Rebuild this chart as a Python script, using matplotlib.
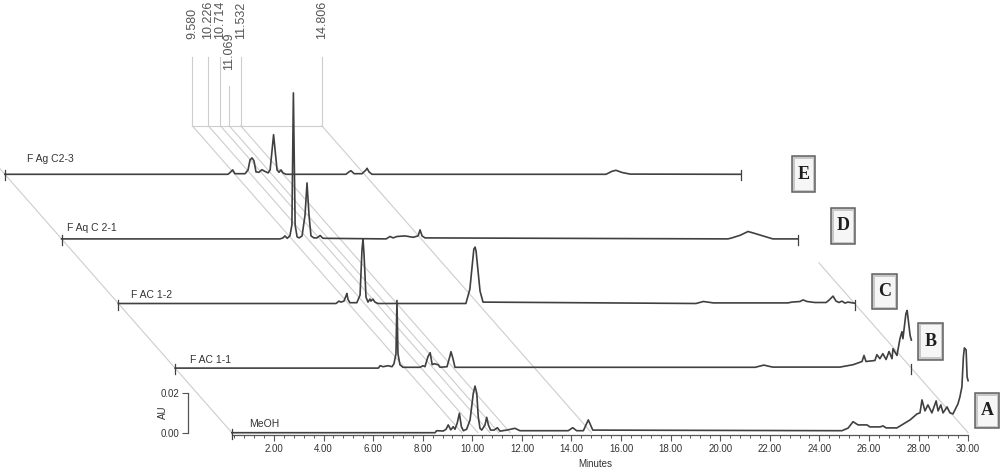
import matplotlib.pyplot as plt
from matplotlib.patches import Rectangle
from matplotlib.ticker import FixedLocator, FormatStrFormatter
import numpy as np

plt.rcParams['font.family'] = ['Liberation Sans', 'DejaVu Sans']

# traces from front (A) to back (E)
names = ['MeOH', 'F AC 1-1', 'F AC 1-2', 'F Aq C 2-1', 'F Ag C2-3']
letters = ['A', 'B', 'C', 'D', 'E']

# retention time (min) / absorbance above each trace's own baseline (AU)
t_a = [0.3, 8.50, 8.56, 8.83, 8.94, 9.03, 9.13, 9.23, 9.30, 9.39, 9.48, 9.56, 9.64, 9.77, 9.91,
       10.04, 10.11, 10.18, 10.24, 10.31, 10.38, 10.51, 10.58, 10.65, 10.74, 10.88, 11.01, 11.12,
       11.39, 11.72, 11.92, 13.87, 14.05, 14.21, 14.48, 14.68, 14.86, 24.91, 25.16, 25.36, 25.56,
       25.92, 26.04, 26.45, 26.57, 26.69, 27.13, 27.46, 27.66, 27.94, 28.06, 28.14, 28.26, 28.38,
       28.54, 28.71, 28.79, 28.90, 28.99, 29.15, 29.27, 29.39, 29.59, 29.67, 29.75, 29.81, 29.85,
       29.92, 29.96, 30.0]
au_a = [0, 0, .0010, .00085, .0017, .0039, .0014, .0030, .0017, .0047, .0097, .0030, .0010, .0017,
        .0064, .0197, .0233, .0197, .0080, .0022, .0013, .0038, .0077, .0038, .0013, .0013, .0025,
        .0008, .0013, .0022, .0010, .0010, .0025, .0010, .0010, .0064, .0013, .0010, .0023, .0055,
        .0039, .0039, .0029, .0029, .0034, .0024, .0024, .0049, .0064, .0094, .0099, .0164, .0109,
        .0139, .0099, .0159, .0109, .0139, .0099, .0129, .0099, .0094, .0144, .0179, .0229, .0379,
        .0424, .0414, .0279, .0260]

t_b = [0.3, 8.50, 8.57, 8.69, 8.89, 9.05, 9.13, 9.21, 9.25, 9.29, 9.37, 9.49, 10.18, 10.30, 10.38,
       10.50, 10.59, 10.67, 10.75, 10.91, 10.99, 11.27, 11.39, 11.43, 11.51, 11.59, 23.7, 24.05,
       24.4, 27.12, 27.65, 28.01, 28.09, 28.17, 28.53, 28.61, 28.73, 28.85, 28.98, 29.10, 29.22,
       29.26, 29.42, 29.54, 29.62, 29.66, 29.78, 29.83, 29.87, 29.95, 30.0]
au_b = [0, 0, .0012, .0007, .0012, .0007, .0022, .0072, .0338, .0072, .0017, .0004, .0004, .0012,
        .0007, .0057, .0077, .0017, .0022, .0017, .0004, .0007, .0062, .0082, .0047, .0004, .0004,
        .0015, .0005, .0005, .0017, .0033, .0063, .0033, .0038, .0067, .0047, .0072, .0043, .0083,
        .0047, .0097, .0063, .0147, .0182, .0147, .0272, .0288, .0247, .0163, .0140]

t_c = [0.3, 9.08, 9.20, 9.28, 9.40, 9.48, 9.52, 9.56, 9.64, 9.92, 10.05, 10.13, 10.17, 10.21, 10.29,
       10.37, 10.45, 10.49, 10.57, 10.65, 10.77, 14.32, 14.48, 14.64, 14.69, 14.73, 14.89, 15.01,
       23.6, 23.9, 24.3, 27.31, 27.47, 27.80, 27.92, 28.08, 28.40, 28.85, 28.97, 29.13, 29.25,
       29.37, 29.49, 29.61, 29.73, 29.97, 30.0]
au_c = [0, 0, .0012, .0007, .0012, .0037, .0050, .0022, .0004, .0004, .0042, .0272, .0322, .0247,
        .0032, .0007, .0022, .0012, .0022, .0007, 0, 0, .0072, .0272, .0282, .0262, .0062, .0007,
        0, .0010, .0003, .0003, .0007, .0010, .0018, .0010, .0005, .0005, .0017, .0037, .0012,
        .0005, .0012, .0002, .0007, .0002, .0002]

t_d = [0.3, 9.11, 9.23, 9.31, 9.40, 9.51, 9.59, 9.65, 9.72, 9.80, 9.88, 10.00, 10.12, 10.20, 10.28,
       10.36, 10.48, 10.60, 10.73, 10.84, 13.39, 13.55, 13.67, 13.83, 14.15, 14.48, 14.68, 14.76,
       14.84, 14.96, 27.18, 27.34, 27.67, 27.99, 28.27, 28.67, 28.99, 30.0]
au_d = [0, 0, .0005, .0015, .0003, .0015, .0070, .0730, .0070, .0010, .0005, .0015, .0120, .0280,
        .0120, .0015, .0005, .0005, .0017, .0003, 0, .0012, .0005, .0012, .0015, .0008, .0015,
        .0045, .0015, .0005, 0, .0005, .0018, .0037, .0027, .0012, 0, 0]

t_e = [0.3, 9.30, 9.38, 9.49, 9.58, 9.99, 10.11, 10.19, 10.27, 10.35, 10.43, 10.55, 10.67, 10.75,
       10.92, 11.00, 11.08, 11.14, 11.20, 11.28, 11.36, 11.44, 11.52, 11.64, 14.06, 14.18, 14.26,
       14.39, 14.71, 14.87, 14.91, 14.99, 15.11, 24.55, 24.79, 24.95, 25.20, 25.52, 30.0]
au_e = [0, 0, .0008, .0022, .0003, .0003, .0022, .0072, .0082, .0067, .0012, .0010, .0023, .0017,
        .0007, .0022, .0122, .0198, .0122, .0022, .0010, .0022, .0007, 0, 0, .0012, .0018, .0003,
        .0003, .0022, .0030, .0012, 0, 0, .0015, .0020, .0009, .0001, 0]

peak_marks = [9.580, 10.226, 10.714, 11.069, 11.532, 14.806]
run_start, run_end = 0.3, 30.0

traces = [(t_a, au_a), (t_b, au_b), (t_c, au_c), (t_d, au_d), (t_e, au_e)]

# 3D offset of each trace behind the previous one
DT, DY = -2.289, 0.0323
TOP = 4.75

W, H = 1000, 469
fig = plt.figure(figsize=(W / 100, H / 100), dpi=100)
ax = fig.add_axes([0, 0, 1, 1])
ax.set_xlim(-9.052, 31.287)
ax.set_ylim(-0.01815, 0.21635)
ax.patch.set_alpha(0)

grid_c = '#cdcdcd'
line_c = '#404040'
text_c = '#333333'

# peak marker lines through the stack
for m in peak_marks:
    ax.plot([m + TOP * DT, m], [TOP * DY, 0], color=grid_c, lw=0.8, zorder=1)
    top = 0.1734 if m == 11.069 else 0.1879
    ax.plot([m + TOP * DT] * 2, [TOP * DY, top], color=grid_c, lw=0.8, zorder=1)
    ly = 0.1812 if m == 11.069 else 0.1970
    ax.text(m + TOP * DT, ly, f'{m:.3f}', rotation=90, ha='center', va='bottom',
            fontsize=9, color='#555555')
ax.plot([peak_marks[0] + TOP * DT, peak_marks[-1] + TOP * DT], [TOP * DY] * 2,
        color=grid_c, lw=0.8, zorder=1)
# box edges
ax.plot([run_start + TOP * DT, run_start], [TOP * DY, 0], color=grid_c, lw=0.8, zorder=1)
ax.plot([run_end + 2.63 * DT, run_end], [2.63 * DY, 0], color=grid_c, lw=0.8, zorder=1)

for k, (t, au) in enumerate(traces):
    x = np.array(t) + k * DT
    y = np.array(au) + k * DY
    ax.plot(x, y, color=line_c, lw=1.2, zorder=3)
    ends = [run_start, run_end] if k > 0 else [run_start]
    for e in ends:
        ax.plot([e + k * DT] * 2, [k * DY + 0.002, k * DY - 0.003], color=line_c, lw=0.9, zorder=3)

# axes of the front trace
for s in ['top', 'right']:
    ax.spines[s].set_visible(False)
ax.spines['bottom'].set_position(('data', -0.0013))
ax.spines['bottom'].set_bounds(run_start, run_end)
ax.spines['left'].set_position(('data', -1.46))
ax.spines['left'].set_bounds(0, 0.02)
for s in ['bottom', 'left']:
    ax.spines[s].set_color('#555555')
    ax.spines[s].set_linewidth(0.9)
ax.xaxis.set_major_locator(FixedLocator(np.arange(2, 31, 2)))
ax.xaxis.set_minor_locator(FixedLocator(np.arange(0.4, 30.01, 0.4)))
ax.xaxis.set_major_formatter(FormatStrFormatter('%.2f'))
ax.yaxis.set_major_locator(FixedLocator([0, 0.02]))
ax.yaxis.set_major_formatter(FormatStrFormatter('%.2f'))
ax.tick_params(which='major', length=4.5, width=0.8, color='#555555', labelsize=7,
               labelcolor=text_c, pad=2)
ax.tick_params(which='minor', length=2.5, width=0.7, color='#555555')

fig.text(163 / W, 1 - 412 / H, 'AU', rotation=90, ha='center', va='center',
         fontsize=7, color=text_c)
fig.text(595 / W, 1 - 464 / H, 'Minutes', ha='center', va='center', fontsize=7, color=text_c)

# trace names
name_pos = [(249, 424), (190, 360), (131, 295), (67, 228), (27, 159)]
for name, (px, py) in zip(names, name_pos):
    fig.text(px / W, 1 - py / H, name, ha='left', va='center', fontsize=7.5, color=text_c)

# letter boxes
box_pos = [(975, 393, 24, 35), (918, 323, 25, 37), (872, 274, 25, 35),
           (831, 208, 24, 36), (792, 156, 23, 36)]
for letter, (bx, by, bw, bh) in zip(letters, box_pos):
    fig.patches.append(Rectangle((bx / W, 1 - (by + bh) / H), bw / W, bh / H,
                                 transform=fig.transFigure, facecolor='#c8c8c8',
                                 edgecolor='#606060', lw=1.1, zorder=5))
    fig.patches.append(Rectangle(((bx + 2.5) / W, 1 - (by + bh - 2.5) / H), (bw - 5) / W,
                                 (bh - 5) / H, transform=fig.transFigure,
                                 facecolor='#f6f6f6', edgecolor='none', zorder=6))
    fig.text((bx + bw / 2) / W, 1 - (by + bh / 2) / H, letter, ha='center', va='center',
             fontsize=13, fontweight='bold', family='Liberation Serif', color='#1e1e1e',
             zorder=7)

fig.savefig('out.png', dpi=100)
